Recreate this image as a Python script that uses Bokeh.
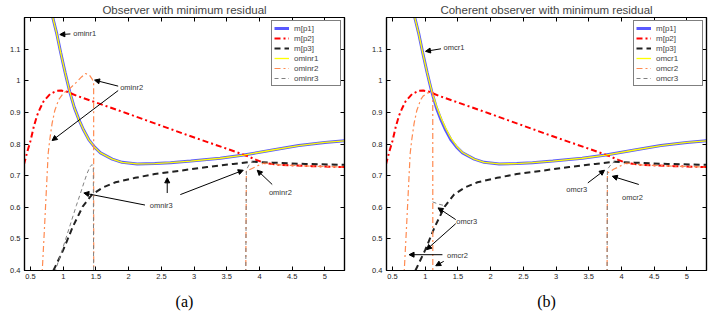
import math
from bokeh.plotting import figure
from bokeh.layouts import row
from bokeh.models import (Arrow, NormalHead, Label, Legend, LegendItem, LinearAxis, Title,
                          FixedTicker, CustomJSTickFormatter, Range1d)
from bokeh.embed import file_html
from bokeh.resources import INLINE

NaN = float("nan")

# ---------------- data ----------------
# model outputs m[p1], m[p2], m[p3] (same in both panels)
P1_X = [0.84, 0.90, 0.96, 1.03, 1.10, 1.17, 1.24, 1.31, 1.39, 1.48, 1.57, 1.75, 1.90, 2.13, 2.40,
        2.64, 2.95, 3.40, 3.76, 4.20, 4.60, 5.00, 5.30]
P1_Y = [1.20, 1.15, 1.09, 1.025, 0.965, 0.915, 0.877, 0.845, 0.814, 0.790, 0.772, 0.752, 0.742, 0.737,
        0.738, 0.741, 0.746, 0.755, 0.765, 0.781, 0.795, 0.805, 0.810]

P2_X = [0.40, 0.45, 0.50, 0.55, 0.60, 0.65, 0.70, 0.80, 0.90, 0.97, 1.05, 1.20, 2.00, 2.90, 3.50,
        3.80, 3.95, 4.07, 4.30, 4.80, 5.30]
P2_Y = [0.735, 0.775, 0.810, 0.855, 0.890, 0.914, 0.935, 0.958, 0.968, 0.969, 0.966, 0.953, 0.895,
        0.828, 0.785, 0.763, 0.750, 0.740, 0.734, 0.730, 0.727]

P3_X = [0.85, 1.00, 1.15, 1.30, 1.44, 1.60, 1.80, 2.10, 2.40, 2.80, 3.20, 3.60, 3.90, 4.20, 4.70, 5.30]
P3_Y = [0.40, 0.465, 0.540, 0.603, 0.640, 0.662, 0.679, 0.693, 0.705, 0.716, 0.727, 0.737, 0.744,
        0.741, 0.737, 0.734]

# observer with minimum residual (a)
OMINR1_X = list(P1_X)
OMINR1_Y = list(P1_Y)
OMINR2_X = [0.672, 0.71, 0.74, 0.77, 0.795, 0.83, 0.87, 0.93, 1.00, 1.10, 1.20, 1.28, 1.34, 1.40, 1.44,
            1.465, 1.466, NaN, 3.79, 3.80, 3.88, 3.97, 4.07, 4.30, 4.80, 5.30]
OMINR2_Y = [0.37, 0.52, 0.645, 0.77, 0.815, 0.865, 0.905, 0.94, 0.96, 0.975, 0.995, 1.012, 1.023,
            1.018, 1.006, 0.995, 0.37, NaN, 0.37, 0.714, 0.722, 0.731, 0.740, 0.734, 0.730, 0.727]
OMINR3_X = [0.87, 0.88, 1.00, 1.10, 1.20, 1.265, 1.32, 1.367, 1.41, 1.44, 1.46, 1.465, NaN,
            3.79, 3.80, 3.85, 3.90]
OMINR3_Y = [0.37, 0.40, 0.475, 0.540, 0.605, 0.645, 0.680, 0.708, 0.728, 0.735, 0.730, 0.37, NaN,
            0.37, 0.718, 0.738, 0.744]

# coherent observer with minimum residual (b)
OMCR1_X = [0.84, 0.90, 0.96, 1.03, 1.10, 1.17, 1.24, 1.31, 1.39, 1.48, 1.57, 1.75, 1.90, 2.13, 2.40,
           2.64, 2.95, 3.40, 3.76, 4.20, 4.60, 5.00, 5.30]
OMCR1_Y = [1.20, 1.15, 1.09, 1.025, 0.967, 0.921, 0.883, 0.851, 0.819, 0.793, 0.773, 0.752, 0.742,
           0.737, 0.738, 0.741, 0.746, 0.755, 0.765, 0.781, 0.795, 0.805, 0.810]
OMCR2_X = [0.672, 0.71, 0.74, 0.77, 0.795, 0.83, 0.87, 0.93, 0.97, 1.03, 1.08, 1.115, 1.116, NaN,
           3.78, 3.785, 3.88, 3.97, 4.07, 4.30, 4.80, 5.30]
OMCR2_Y = [0.37, 0.52, 0.645, 0.77, 0.815, 0.865, 0.905, 0.94, 0.952, 0.961, 0.964, 0.965, 0.37, NaN,
           0.37, 0.708, 0.720, 0.729, 0.740, 0.734, 0.730, 0.727]
OMCR3_X = [1.112, 1.20, 1.30, NaN, 3.78, 3.785, 3.85, 3.90]
OMCR3_Y = [0.617, 0.610, 0.605, NaN, 0.37, 0.720, 0.738, 0.744]

X_TICKS = [0.5, 1, 1.5, 2, 2.5, 3, 3.5, 4, 4.5, 5]
Y_TICKS = [0.4, 0.5, 0.6, 0.7, 0.8, 0.9, 1.0, 1.1]

# annotations: label text, label position, arrows (x0, y0, x1, y1)
ANN_A = [
    ("ominr1", 1.153, 1.148, [(1.11, 1.148, 0.948, 1.146)]),
    ("ominr2", 1.87, 0.979, [(1.84, 0.983, 1.479, 1.002), (1.84, 0.969, 0.83, 0.811)]),
    ("omnir3", 2.324, 0.605, [(2.25, 0.607, 1.315, 0.645), (2.59, 0.645, 2.59, 0.693),
                              (2.79, 0.640, 3.752, 0.717)]),
    ("ominr2", 4.144, 0.647, [(4.195, 0.672, 3.966, 0.717)]),
]
ANN_B = [
    ("omcr1", 1.279, 1.104, [(1.241, 1.101, 1.004, 1.093)]),
    ("omcr3", 1.476, 0.555, [(1.466, 0.561, 1.196, 0.598), (1.466, 0.548, 1.02, 0.466)]),
    ("omcr2", 1.334, 0.447, [(1.263, 0.450, 0.753, 0.450), (1.283, 0.429, 1.161, 0.415)]),
    ("omcr3", 3.156, 0.656, [(3.486, 0.677, 3.741, 0.717)]),
    ("omcr2", 4.01, 0.631, [(4.265, 0.672, 3.86, 0.698)]),
]

FONT = "Liberation Sans"


def make_panel(title, names, r1, r2, r3, anns, caption, border_left, border_right):
    p = figure(frame_width=320, frame_height=253, output_backend="svg", toolbar_location=None,
               x_range=Range1d(0.408, 5.3), y_range=Range1d(0.4, 1.2),
               min_border_left=border_left, min_border_right=border_right,
               min_border_top=4, min_border_bottom=46, title=title)
    p.title.text_font = FONT
    p.title.text_font_size = "11.5px"
    p.title.text_font_style = "normal"
    p.title.align = "center"
    p.title.standoff = 3
    p.grid.visible = False
    p.outline_line_color = "black"
    p.outline_line_width = 1.2
    p.background_fill_color = "white"
    p.border_fill_color = "white"

    fmt = CustomJSTickFormatter(code="return String(Math.round(tick*10)/10)")
    for ax in (p.xaxis[0], p.yaxis[0]):
        ax.major_tick_in = 4
        ax.major_tick_out = 0
        ax.minor_tick_line_color = None
        ax.major_label_text_font = FONT
        ax.major_label_text_font_size = "7.5px"
        ax.major_label_text_color = "#222222"
        ax.axis_line_color = "black"
        ax.axis_line_width = 1.2
        ax.formatter = fmt
    p.xaxis[0].ticker = FixedTicker(ticks=X_TICKS)
    p.yaxis[0].ticker = FixedTicker(ticks=Y_TICKS)
    p.xaxis[0].major_label_standoff = 3
    p.yaxis[0].major_label_standoff = 4

    blank = CustomJSTickFormatter(code="return ''")
    top = LinearAxis(ticker=FixedTicker(ticks=X_TICKS), major_tick_in=4, major_tick_out=0,
                     minor_tick_line_color=None, formatter=blank,
                     major_label_standoff=0, axis_line_width=1.2)
    right = LinearAxis(ticker=FixedTicker(ticks=Y_TICKS), major_tick_in=4, major_tick_out=0,
                       minor_tick_line_color=None, formatter=blank,
                       major_label_standoff=0, axis_line_width=1.2)
    p.add_layout(top, "above")
    p.add_layout(right, "right")

    g1 = p.line(P1_X, P1_Y, color="#0000ff", line_width=3, line_alpha=0.65)
    g2 = p.line(P2_X, P2_Y, color="#ff0000", line_width=2, line_dash="6 3 2 3")
    g3 = p.line(P3_X, P3_Y, color="#222222", line_width=2, line_dash="6 4")
    g4 = p.line(r1[0], r1[1], color="#ffff00", line_width=1.3)
    g5 = p.line(r2[0], r2[1], color="#ff8a50", line_width=1.2, line_dash="6 3 2 3")
    g6 = p.line(r3[0], r3[1], color="#808080", line_width=1, line_dash="4 3")

    for text, tx, ty, arrows in anns:
        for (x0, y0, x1, y1) in arrows:
            p.add_layout(Arrow(x_start=x0, y_start=y0, x_end=x1, y_end=y1, line_width=1,
                               line_color="black",
                               end=NormalHead(size=5, fill_color="black", line_color="black")))
        p.add_layout(Label(x=tx, y=ty, text=text, text_font=FONT, text_font_size="7.5px",
                           text_color="#333333", text_baseline="middle", text_align="left"))

    cap = Title(text=caption, align="center", offset=-14, text_font="Liberation Serif",
                text_font_size="16px", text_font_style="normal", text_color="black", standoff=18)
    p.add_layout(cap, "below")

    items = [LegendItem(label=n, renderers=[g]) for n, g in zip(names, [g1, g2, g3, g4, g5, g6])]
    leg = Legend(items=items, location="top_right", border_line_color="black",
                 border_line_width=1.3, label_text_font=FONT, label_text_font_size="8px",
                 glyph_height=10, glyph_width=15, label_height=10, label_width=44, spacing=0,
                 padding=2, margin=3, label_standoff=5, background_fill_alpha=1)
    p.add_layout(leg)
    return p


pa = make_panel("Observer with minimum residual",
                ["m[p1]", "m[p2]", "m[p3]", "ominr1", "ominr2", "ominr3"],
                (OMINR1_X, OMINR1_Y), (OMINR2_X, OMINR2_Y), (OMINR3_X, OMINR3_Y),
                ANN_A, "(a)", 24, 22)
pb = make_panel("Coherent observer with minimum residual",
                ["m[p1]", "m[p2]", "m[p3]", "omcr1", "omcr2", "omcr3"],
                (OMCR1_X, OMCR1_Y), (OMCR2_X, OMCR2_Y), (OMCR3_X, OMCR3_Y),
                ANN_B, "(b)", 20, 14)

layout = row(pa, pb)
open("out.html", "w").write(file_html(layout, INLINE))
